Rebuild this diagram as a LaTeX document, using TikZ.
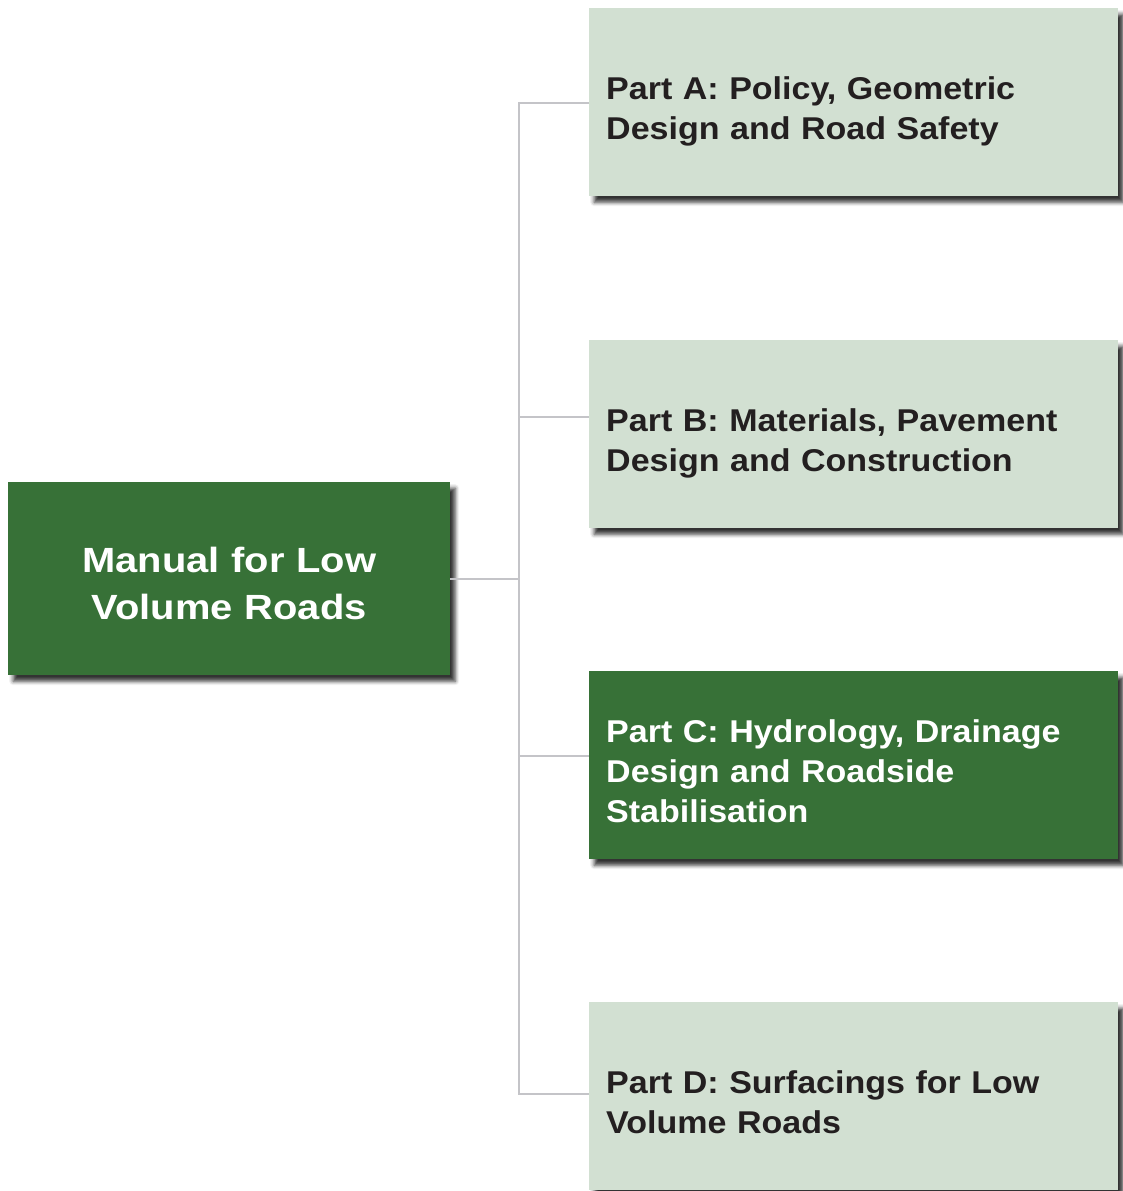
\documentclass[tikz,border=0pt]{standalone}
\usepackage{fontspec}
\setmainfont{Liberation Sans}[FakeStretch=1.08]
\newfontfamily\widefont{Liberation Sans}[FakeStretch=1.14]
\usetikzlibrary{positioning,calc,shadows.blur}
\definecolor{darkgreen}{HTML}{377137}
\definecolor{lightgreen}{HTML}{D2E0D2}
\definecolor{linkgray}{HTML}{C4C4C8}
\definecolor{darktext}{HTML}{231F20}
\tikzset{LINK/.style={line width=2pt, linkgray, line join=miter}}
\tikzset{SHADOW/.style={blur shadow={shadow xshift=5pt, shadow yshift=-6pt, shadow blur radius=4pt, shadow opacity=80}}}
\tikzset{LOWER/.style={execute at end node={\strut\par\vspace*{-#1}}}}
\tikzset{PART/.style={rectangle, minimum width=529pt, minimum height=188pt, text width=495pt, inner xsep=17pt, align=left, anchor=north west, SHADOW, LOWER=23.6pt, font=\fontsize{31.5}{40}\selectfont\bfseries}}
\tikzset{MAIN/.style={rectangle, minimum width=442pt, minimum height=193pt, text width=420pt, inner xsep=11pt, align=center, anchor=north west, SHADOW, LOWER=22.5pt, fill=darkgreen, text=white, font=\widefont\fontsize{35}{47}\selectfont\bfseries}}

\begin{document}
\begin{tikzpicture}[x=1pt, y=-1pt]
    \useasboundingbox (0,0) rectangle (1122,1191);

    \node[MAIN] (n_main) at (8,482) {Manual for Low\\Volume Roads};

    \node[PART, fill=lightgreen, text=darktext] (n_parta) at (589,8)
        {Part A: Policy, Geometric\\Design and Road Safety};
    \node[PART, fill=lightgreen, text=darktext] (n_partb) at (589,340)
        {Part B: Materials, Pavement\\Design and Construction};
    \node[PART, fill=darkgreen, text=white] (n_partc) at (589,671)
        {Part C: Hydrology, Drainage\\Design and Roadside\\Stabilisation};
    \node[PART, fill=lightgreen, text=darktext] (n_partd) at (589,1002)
        {Part D: Surfacings for Low\\Volume Roads};

    % trunk and branches
    \coordinate (t_a) at (519,103);
    \coordinate (t_b) at (519,417);
    \coordinate (t_c) at (519,756);
    \coordinate (t_d) at (519,1094);

    \draw[LINK] (t_a -| n_parta.west) -- (t_a) -- (t_d) -- (t_d -| n_partd.west);
    \draw[LINK] (n_main.east) -- (n_main.east -| t_a);
    \draw[LINK] (t_b) -- (t_b -| n_partb.west);
    \draw[LINK] (t_c) -- (t_c -| n_partc.west);
\end{tikzpicture}
\end{document}
